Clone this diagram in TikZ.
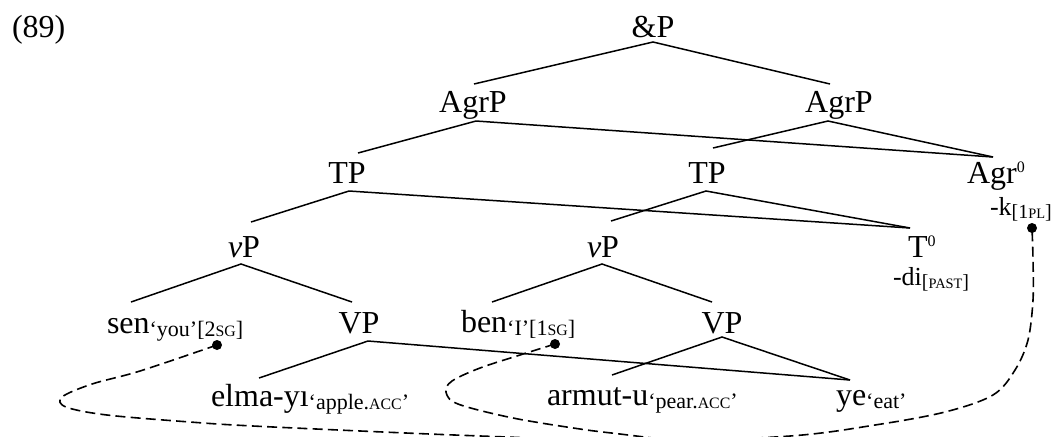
\documentclass[tikz,border=0pt]{standalone}
\usepackage{fontspec}
\setmainfont{Liberation Serif}
\newcommand\smcx[1]{{\fontsize{0.72\dimexpr\fontdimen6\font\relax}{1em}\selectfont #1}}
\begin{document}
\begin{tikzpicture}[x=0.5pt,y=-0.5pt,
  every node/.style={inner sep=0pt, outer sep=0pt},
  cat/.style={anchor=base, font=\fontsize{16}{16}\selectfont},
  word/.style={anchor=base west, font=\fontsize{16}{16}\selectfont},
  affix/.style={anchor=base west, font=\fontsize{13}{13}\selectfont},
  gloss/.style={anchor=base west, font=\fontsize{11}{11}\selectfont, yshift=-1.5pt},
  branch/.style={line width=0.75pt},
  link/.style={line width=0.8pt, dash pattern=on 5pt off 2.6pt},
  dotnode/.style={circle, fill=black, inner sep=0pt, minimum size=5pt}]
\useasboundingbox (0,0) rectangle (1063,436);

% labels
\node[word] (ex) at (12,37) {(89)};
\node[cat] (andP) at (653,37) {\&P};
\node[cat] (agrL) at (473,112) {AgrP};
\node[cat] (agrR) at (839,112) {AgrP};
\node[cat] (tpL) at (347,183) {TP};
\node[cat] (tpM) at (707,183) {TP};
\node[word] (agr0) at (967,183) {Agr\raisebox{5.2pt}{\fontsize{8}{8}\selectfont 0}};
\node[affix] (kaff) at (990,215) {-k\raisebox{-1.5pt}{\fontsize{10}{10}\selectfont[1\smcx{PL}]}};
\node[cat] (vpL) at (244,257) {\textit{v}P};
\node[cat] (vpM) at (603,257) {\textit{v}P};
\node[word] (t0) at (908,257) {T\raisebox{5.2pt}{\fontsize{8}{8}\selectfont 0}};
\node[affix] (diaff) at (893,285) {-di\raisebox{-1.5pt}{\fontsize{10}{10}\selectfont[\smcx{PAST}]}};
\node[word] (sen) at (107,333) {sen};
\node[gloss] (senG) at (sen.base east) {‘you’[2\smcx{SG}]};
\node[cat] (VPL) at (359,333) {VP};
\node[word] (ben) at (461,332) {ben};
\node[gloss] (benG) at (ben.base east) {‘I’[1\smcx{SG}]};
\node[cat] (VPR) at (722,333) {VP};
\node[word] (elma) at (211,406) {elma-yı};
\node[gloss] (elmaG) at (elma.base east) {‘apple.\smcx{ACC}’};
\node[word] (armut) at (547,405) {armut-u};
\node[gloss] (armutG) at (armut.base east) {‘pear.\smcx{ACC}’};
\node[word] (ye) at (836,405) {ye};
\node[gloss] (yeG) at (ye.base east) {‘eat’};

% dots
\node[dotnode] (sdot) at (217,345) {};
\node[dotnode] (bdot) at (555,344) {};
\node[dotnode] (kdot) at (1032,228) {};

% attachment points
\coordinate (andP-b) at (653,42);
\coordinate (agrL-t) at (474,84);
\coordinate (agrR-t) at (830,84);
\coordinate (agrL-b) at (476,121);
\coordinate (agrR-b) at (828,121);
\coordinate (tpL-t) at (358,153);
\coordinate (tpM-t) at (713,148);
\coordinate (agr0-t) at (993,157);
\coordinate (tpL-b) at (349,191);
\coordinate (tpM-b) at (706,191);
\coordinate (vpL-t) at (251,222);
\coordinate (vpM-t) at (611,221);
\coordinate (t0-t) at (910,228);
\coordinate (vpL-b) at (241,264);
\coordinate (vpM-b) at (602,264);
\coordinate (sen-t) at (131,302);
\coordinate (VPL-t) at (352,302);
\coordinate (ben-t) at (492,302);
\coordinate (VPR-t) at (712,302);
\coordinate (VPL-b) at (368,341);
\coordinate (VPR-b) at (722,337);
\coordinate (elma-t) at (259,378);
\coordinate (armut-t) at (612,375);
\coordinate (ye-t) at (850,380);

% branches
\draw[branch] (agrL-t) -- (andP-b) -- (agrR-t);
\draw[branch] (tpL-t) -- (agrL-b) -- (agr0-t);
\draw[branch] (tpM-t) -- (agrR-b) -- (agr0-t);
\draw[branch] (vpL-t) -- (tpL-b) -- (t0-t);
\draw[branch] (vpM-t) -- (tpM-b) -- (t0-t);
\draw[branch] (sen-t) -- (vpL-b) -- (VPL-t);
\draw[branch] (ben-t) -- (vpM-b) -- (VPR-t);
\draw[branch] (elma-t) -- (VPL-b) -- (ye-t);
\draw[branch] (armut-t) -- (VPR-b) -- (ye-t);

% dashed links
\begin{scope}
\clip (0,0) rectangle (1063,436);
\draw[link] plot[smooth, tension=0.55] coordinates {(sdot.center) (140,371) (92,384) (62,397) (66,407) (107,415) (190,422) (253,426) (406,433) (507,437) (640,442) (790,436) (875,425) (945,412) (993,395) (1015,370) (1028,340) (1033,300) (1033,260) (kdot.center)};
\draw[link] plot[smooth, tension=0.55] coordinates {(bdot.center) (520,355) (480,368) (452,381) (446,392) (458,404) (513,418) (580,429) (620,434) (680,441) (730,444)};
\end{scope}
\end{tikzpicture}
\end{document}
